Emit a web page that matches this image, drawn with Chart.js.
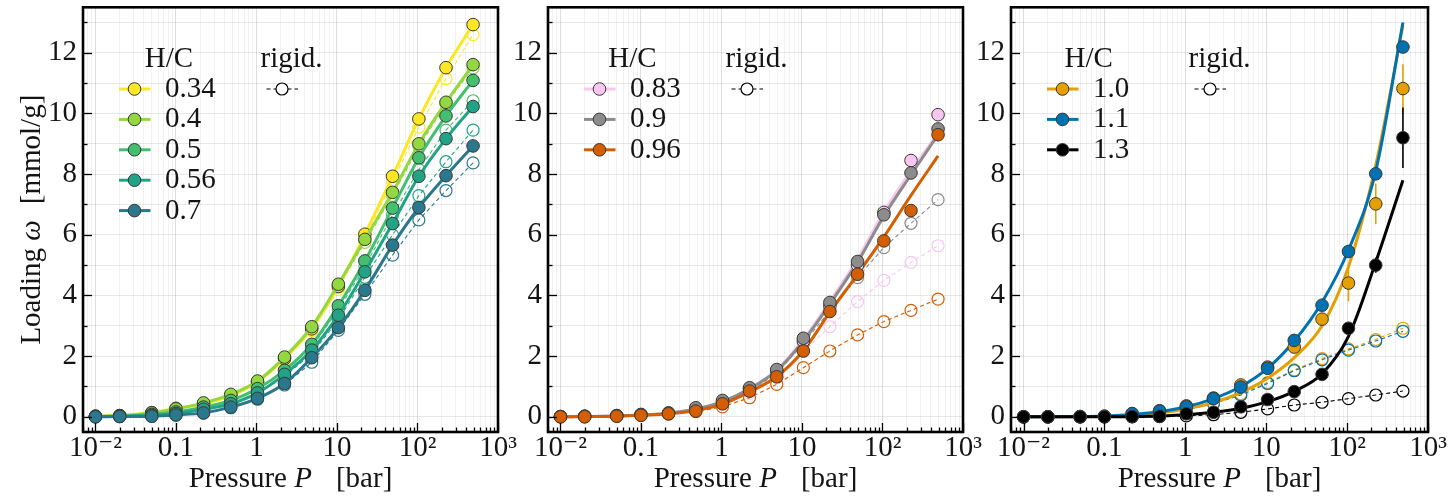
<!DOCTYPE html>
<html><head><meta charset="utf-8">
<script src="https://cdn.jsdelivr.net/npm/chart.js@4.4.1/dist/chart.umd.min.js"></script>
<style>
html,body{margin:0;padding:0;background:#fff;overflow:hidden;}
#wrap{position:relative;width:1451px;height:501px;}
canvas{position:absolute;top:0;}
</style></head><body>
<div id="wrap">
<canvas id="c1" width="522" height="501" style="left:0px"></canvas>
<canvas id="c2" width="487" height="501" style="left:500px"></canvas>
<canvas id="c3" width="486" height="501" style="left:965px"></canvas>
</div>
<script>
// ---------- data ----------
const pressure = [0.01, 0.02, 0.05, 0.1, 0.22, 0.48, 1.03, 2.23, 4.86, 10.4, 22.2, 49, 104, 226, 490];

// panel 1 (H/C 0.34 ... 0.7) flexible
const hc034 = [0.02, 0.04, 0.14, 0.28, 0.43, 0.70, 1.15, 1.92, 2.90, 4.30, 6.02, 7.93, 9.82, 11.51, 12.93];
const hc040 = [0.02, 0.04, 0.13, 0.26, 0.46, 0.74, 1.18, 1.97, 2.97, 4.37, 5.85, 7.40, 9.00, 10.37, 11.61];
const hc050 = [0.01, 0.02, 0.08, 0.16, 0.32, 0.54, 0.93, 1.53, 2.39, 3.66, 5.14, 6.88, 8.54, 9.92, 11.09];
const hc056 = [0.01, 0.02, 0.05, 0.11, 0.25, 0.43, 0.79, 1.40, 2.20, 3.35, 4.78, 6.37, 7.93, 9.17, 10.23];
const hc070 = [0.00, 0.01, 0.02, 0.06, 0.13, 0.32, 0.61, 1.10, 1.95, 2.94, 4.17, 5.66, 6.90, 7.95, 8.93];
// panel 1 rigid
const rg034 = [0.02, 0.04, 0.13, 0.26, 0.41, 0.68, 1.12, 1.88, 2.84, 4.20, 5.90, 7.75, 9.55, 11.15, 12.60];
const rg040 = [0.02, 0.04, 0.12, 0.25, 0.44, 0.72, 1.15, 1.93, 2.90, 4.28, 5.75, 7.30, 8.90, 10.30, 11.50];
const rg050 = [0.01, 0.02, 0.07, 0.15, 0.30, 0.52, 0.90, 1.48, 2.30, 3.52, 4.95, 6.65, 8.15, 9.45, 10.42];
const rg056 = [0.01, 0.02, 0.05, 0.10, 0.24, 0.41, 0.76, 1.33, 2.08, 3.20, 4.60, 6.00, 7.29, 8.41, 9.45];
const rg070 = [0.00, 0.01, 0.02, 0.06, 0.12, 0.30, 0.58, 1.05, 1.80, 2.85, 4.04, 5.33, 6.49, 7.46, 8.37];

// panel 2 (H/C 0.83, 0.9, 0.96)
const hc083 = [0.01, 0.02, 0.04, 0.07, 0.12, 0.27, 0.50, 0.93, 1.50, 2.50, 3.65, 5.00, 6.74, 8.45, 9.96];
const hc090 = [0.01, 0.02, 0.04, 0.08, 0.13, 0.30, 0.54, 0.96, 1.56, 2.59, 3.77, 5.12, 6.66, 8.04, 9.49];
const hc096 = [0.00, 0.00, 0.02, 0.05, 0.10, 0.19, 0.43, 0.85, 1.32, 2.17, 3.47, 4.70, 5.80, 6.80, 9.30];
const fit083 = [0.00, 0.01, 0.03, 0.06, 0.12, 0.26, 0.50, 0.93, 1.55, 2.55, 3.80, 5.20, 6.75, 8.10, 9.35];
const fit090 = [0.00, 0.01, 0.03, 0.06, 0.12, 0.26, 0.50, 0.92, 1.52, 2.50, 3.72, 5.10, 6.62, 7.98, 9.30];
const fit096 = [0.00, 0.01, 0.02, 0.05, 0.10, 0.21, 0.42, 0.82, 1.33, 2.18, 3.45, 4.70, 5.93, 7.30, 8.60];
const rg083 = [0.01, 0.02, 0.04, 0.07, 0.11, 0.24, 0.42, 0.78, 1.30, 2.15, 2.97, 3.80, 4.50, 5.09, 5.64];
const rg090 = [0.01, 0.02, 0.04, 0.07, 0.11, 0.26, 0.46, 0.85, 1.42, 2.42, 3.50, 4.59, 5.58, 6.38, 7.16];
const rg096 = [0.00, 0.00, 0.02, 0.05, 0.09, 0.17, 0.33, 0.63, 1.07, 1.62, 2.17, 2.70, 3.14, 3.51, 3.88];

// panel 3 (H/C 1.0, 1.1, 1.3)
const hc100 = [0.00, 0.00, 0.01, 0.02, 0.10, 0.20, 0.36, 0.62, 1.05, 1.64, 2.30, 3.22, 4.41, 7.02, 10.82];
const hc110 = [0.00, 0.00, 0.01, 0.02, 0.11, 0.19, 0.33, 0.60, 0.98, 1.60, 2.52, 3.68, 5.45, 8.01, 12.19];
const hc130 = [0.00, 0.00, 0.00, 0.00, 0.01, 0.02, 0.10, 0.15, 0.33, 0.57, 0.83, 1.40, 2.92, 5.00, 9.20];
const err100 = [0, 0, 0, 0, 0, 0, 0, 0, 0, 0, 0, 0, 0.60, 0.67, 0.80];
const err110 = [0, 0, 0, 0, 0, 0, 0, 0, 0, 0, 0, 0, 0, 0, 0];
const err130 = [0, 0, 0, 0, 0, 0, 0, 0, 0, 0, 0, 0, 0.10, 0.25, 1.00];
const fit100 = [0.00, 0.00, 0.01, 0.02, 0.06, 0.13, 0.26, 0.47, 0.80, 1.27, 1.95, 3.00, 4.95, 8.30, 12.90];
const fit110 = [0.00, 0.00, 0.01, 0.03, 0.08, 0.17, 0.33, 0.60, 1.00, 1.60, 2.50, 3.78, 5.50, 8.10, 13.00];
const fit130 = [0.00, 0.00, 0.00, 0.00, 0.01, 0.03, 0.07, 0.15, 0.28, 0.50, 0.84, 1.42, 2.65, 5.10, 7.80];
const rg100 = [0.00, 0.00, 0.00, 0.01, 0.05, 0.12, 0.25, 0.45, 0.76, 1.13, 1.55, 1.92, 2.24, 2.55, 2.92];
const rg110 = [0.00, 0.00, 0.00, 0.01, 0.05, 0.12, 0.24, 0.43, 0.72, 1.10, 1.52, 1.88, 2.20, 2.50, 2.82];
const rg130 = [0.00, 0.00, 0.00, 0.00, 0.00, 0.01, 0.03, 0.07, 0.15, 0.26, 0.39, 0.48, 0.60, 0.72, 0.85];

// axes / labels
const xMajorTicks = [0.01, 0.1, 1, 10, 100, 1000];
const xTickLabels = ['10\u207B\u00B2', '0.1', '1', '10', '10\u00B2', '10\u00B3'];
const yTicks = [0, 1, 2, 3, 4, 5, 6, 7, 8, 9, 10, 11, 12, 13];
const yTickLabels = ['0', '', '2', '', '4', '', '6', '', '8', '', '10', '', '12', ''];
const legendTitle = 'H/C';
const rigidTitle = 'rigid.';
const xTitle = ['Pressure ', 'P', '[bar]'];
const yTitle = ['Loading ', '\u03C9', '[mmol/g]'];

// ---------- styling ----------
const FONT = "'Liberation Serif', 'DejaVu Serif', serif";
const TXT = '#141414';
const EDGE = '#383838';
const X_MIN = 0.007, X_MAX = 1000, Y_MIN = -0.5, Y_MAX = 13.5;

const xAllTicks = [];
xMajorTicks.forEach(d => { for (let m = 1; m <= 9; m++) { const v = +(m * d / 10).toPrecision(6); if (v >= X_MIN && v <= X_MAX) xAllTicks.push(v); } });
xAllTicks.push(1000);
const isMajorX = v => xMajorTicks.some(t => Math.abs(v - t) / t < 1e-6);
const xLabel = v => { const i = xMajorTicks.findIndex(t => Math.abs(v - t) / t < 1e-6); return i >= 0 ? xTickLabels[i] : ''; };
const pts = arr => pressure.map((p, i) => ({ x: p, y: arr[i] }));

function filledDS(label, vals, color, order, showLine) {
  return { label, data: pts(vals), showLine: !!showLine, borderColor: color, borderWidth: 3,
    cubicInterpolationMode: 'monotone', pointRadius: 6.3, pointBackgroundColor: color,
    pointBorderColor: EDGE, pointBorderWidth: 1, order };
}
function fitDS(vals, color, order) {
  return { data: pts(vals), showLine: true, borderColor: color, borderWidth: 3,
    cubicInterpolationMode: 'monotone', pointRadius: 0, order };
}
function rigidDS(vals, color, order) {
  return { data: pts(vals), showLine: true, borderColor: color, borderWidth: 1.1, borderDash: [4, 3],
    tension: 0, pointRadius: 6, pointBackgroundColor: 'rgba(0,0,0,0)', pointBorderColor: color,
    pointBorderWidth: 1.2, order };
}

const decoPlugin = {
  id: 'deco',
  beforeDatasetsDraw(chart, args, o) {
    const ctx = chart.ctx, xs = chart.scales.x, ys = chart.scales.y;
    (o.errors || []).forEach(e => {
      ctx.save(); ctx.strokeStyle = e.color; ctx.lineWidth = 1.6;
      e.err.forEach((er, i) => {
        if (er <= 0) return;
        const px = xs.getPixelForValue(pressure[i]);
        ctx.beginPath(); ctx.moveTo(px, ys.getPixelForValue(e.vals[i] - er));
        ctx.lineTo(px, ys.getPixelForValue(e.vals[i] + er)); ctx.stroke();
      });
      ctx.restore();
    });
  },
  afterDraw(chart, args, o) {
    const ctx = chart.ctx, a = chart.chartArea, xs = chart.scales.x, ys = chart.scales.y;
    ctx.save();
    // ticks (inward)
    ctx.strokeStyle = '#000'; ctx.lineWidth = 1.3;
    xs.ticks.forEach(t => {
      const px = Math.round(xs.getPixelForValue(t.value)) + 0.5;
      const L = isMajorX(t.value) ? 9 : 4.5;
      ctx.beginPath(); ctx.moveTo(px, a.bottom); ctx.lineTo(px, a.bottom - L); ctx.stroke();
    });
    ys.ticks.forEach(t => {
      const py = Math.round(ys.getPixelForValue(t.value)) + 0.5;
      const L = t.value % 2 === 0 ? 9 : 4.5;
      ctx.beginPath(); ctx.moveTo(a.left, py); ctx.lineTo(a.left + L, py); ctx.stroke();
    });
    // frame
    ctx.lineWidth = 2.6; ctx.strokeStyle = '#000';
    ctx.strokeRect(a.left, a.top, a.right - a.left, a.bottom - a.top);

    // x title
    ctx.fillStyle = TXT; ctx.textBaseline = 'alphabetic';
    const fN = `29px ${FONT}`, fI = `italic 29px ${FONT}`;
    ctx.font = fN; const w1 = ctx.measureText(xTitle[0]).width, w3 = ctx.measureText(xTitle[2]).width;
    ctx.font = fI; const w2 = ctx.measureText(xTitle[1]).width;
    const gap = 24;
    let x = (a.left + a.right) / 2 - (w1 + w2 + gap + w3) / 2;
    const by = 487;
    ctx.textAlign = 'left';
    ctx.font = fN; ctx.fillText(xTitle[0], x, by); x += w1;
    ctx.font = fI; ctx.fillText(xTitle[1], x, by); x += w2 + gap;
    ctx.font = fN; ctx.fillText(xTitle[2], x, by);

    // y title (first panel only)
    if (o.yTitle) {
      ctx.save();
      ctx.translate(40, (a.top + a.bottom) / 2);
      ctx.rotate(-Math.PI / 2);
      ctx.font = fN; const v1 = ctx.measureText(yTitle[0]).width, v3 = ctx.measureText(yTitle[2]).width;
      ctx.font = fI; const v2 = ctx.measureText(yTitle[1]).width;
      const g2 = 16;
      let yy = -(v1 + v2 + g2 + v3) / 2;
      ctx.font = fN; ctx.fillText(yTitle[0], yy, 0); yy += v1;
      ctx.font = fI; ctx.fillText(yTitle[1], yy, 0); yy += v2 + g2;
      ctx.font = fN; ctx.fillText(yTitle[2], yy, 0);
      ctx.restore();
    }

    // legend
    const Lg = o.legend, x0 = a.left;
    ctx.font = fN; ctx.fillStyle = TXT; ctx.textAlign = 'center';
    ctx.fillText(legendTitle, x0 + Lg.hcCenter, 67);
    ctx.fillText(rigidTitle, x0 + 208.5, 67);
    Lg.entries.forEach((e, i) => {
      const y = 89 + i * 30.4;
      ctx.strokeStyle = e.line; ctx.lineWidth = 3; ctx.setLineDash([]);
      ctx.beginPath(); ctx.moveTo(x0 + 36, y); ctx.lineTo(x0 + 67.5, y); ctx.stroke();
      ctx.beginPath(); ctx.arc(x0 + 51.5, y, 6.3, 0, Math.PI * 2);
      ctx.fillStyle = e.color; ctx.fill(); ctx.strokeStyle = EDGE; ctx.lineWidth = 1; ctx.stroke();
      ctx.fillStyle = TXT; ctx.textAlign = 'left';
      ctx.fillText(e.label, x0 + 82, y + 8);
    });
    ctx.strokeStyle = '#000'; ctx.lineWidth = 1; ctx.setLineDash([4, 3]);
    ctx.beginPath(); ctx.moveTo(x0 + 183.5, 89); ctx.lineTo(x0 + 215, 89); ctx.stroke();
    ctx.setLineDash([]);
    ctx.beginPath(); ctx.arc(x0 + 199, 89, 6, 0, Math.PI * 2);
    ctx.fillStyle = '#fff'; ctx.fill(); ctx.lineWidth = 1.2; ctx.stroke();
    ctx.restore();
  }
};

function makeChart(id, yAxisW, padRight, datasets, deco) {
  return new Chart(document.getElementById(id), {
    type: 'scatter',
    data: { datasets },
    options: {
      responsive: false, animation: false, events: [],
      layout: { padding: { top: 7, right: padRight, bottom: 0, left: 0 } },
      plugins: { legend: { display: false }, tooltip: { enabled: false }, deco },
      scales: {
        x: {
          type: 'logarithmic', min: X_MIN, max: X_MAX,
          afterBuildTicks: s => { s.ticks = xAllTicks.map(v => ({ value: v })); },
          afterFit: s => { s.height = 69; s.paddingLeft = 0; s.paddingRight = 0; },
          ticks: { autoSkip: false, maxRotation: 0, minRotation: 0, padding: -1, color: TXT,
            font: { family: FONT, size: 29 }, callback: v => xLabel(v) },
          grid: { drawTicks: false, lineWidth: 1,
            color: c => (c.tick && isMajorX(c.tick.value)) ? 'rgba(0,0,0,0.13)' : 'rgba(0,0,0,0.055)' },
          border: { display: false }
        },
        y: {
          min: Y_MIN, max: Y_MAX,
          afterBuildTicks: s => { s.ticks = yTicks.map(v => ({ value: v })); },
          afterFit: s => { s.width = yAxisW; s.paddingTop = 0; s.paddingBottom = 0; },
          ticks: { autoSkip: false, padding: 6, color: TXT, font: { family: FONT, size: 29 },
            callback: v => { const i = yTicks.indexOf(v); return i >= 0 ? yTickLabels[i] : ''; } },
          grid: { drawTicks: false, lineWidth: 1, color: 'rgba(0,0,0,0.09)' },
          border: { display: false }
        }
      }
    },
    plugins: [decoPlugin]
  });
}

// colours
const C034 = '#fde725', C040 = '#93d741', C050 = '#44bf70', C056 = '#21a386', C070 = '#2a788e';
const C083 = '#f8c6f0', C090 = '#8c8c8c', C096 = '#d55e00';
const C100 = '#e69f00', C110 = '#0072b2', C130 = '#000000';

makeChart('c1', 83, 24, [
  rigidDS(rg034, C034, 120), rigidDS(rg040, C040, 119), rigidDS(rg050, C050, 118), rigidDS(rg056, C056, 117), rigidDS(rg070, C070, 116),
  filledDS('0.34', hc034, C034, 50, true), filledDS('0.4', hc040, C040, 49, true), filledDS('0.5', hc050, C050, 48, true),
  filledDS('0.56', hc056, C056, 47, true), filledDS('0.7', hc070, C070, 46, true)
], { yTitle: true, legend: { hcCenter: 86, entries: [
  { label: '0.34', color: C034, line: C034 }, { label: '0.4', color: C040, line: C040 }, { label: '0.5', color: C050, line: C050 },
  { label: '0.56', color: C056, line: C056 }, { label: '0.7', color: C070, line: C070 } ] } });

makeChart('c2', 48, 24, [
  rigidDS(rg083, C083, 120), rigidDS(rg090, C090, 119), rigidDS(rg096, C096, 118),
  fitDS(fit083, C083, 90), fitDS(fit090, C090, 89), fitDS(fit096, C096, 88),
  filledDS('0.83', hc083, C083, 50), filledDS('0.9', hc090, C090, 49), filledDS('0.96', hc096, C096, 48)
], { legend: { hcCenter: 84.5, entries: [
  { label: '0.83', color: C083, line: C083 }, { label: '0.9', color: C090, line: C090 }, { label: '0.96', color: C096, line: C096 } ] } });

makeChart('c3', 46, 23, [
  rigidDS(rg100, C100, 120), rigidDS(rg110, C110, 119), rigidDS(rg130, C130, 118),
  fitDS(fit100, C100, 90), fitDS(fit110, C110, 89), fitDS(fit130, C130, 88),
  filledDS('1.0', hc100, C100, 50), filledDS('1.1', hc110, C110, 49), filledDS('1.3', hc130, C130, 48)
], { errors: [ { vals: hc100, err: err100, color: C100 }, { vals: hc110, err: err110, color: C110 }, { vals: hc130, err: err130, color: C130 } ],
  legend: { hcCenter: 77.7, entries: [
  { label: '1.0', color: C100, line: C100 }, { label: '1.1', color: C110, line: C110 }, { label: '1.3', color: C130, line: C130 } ] } });
</script>
</body></html>
